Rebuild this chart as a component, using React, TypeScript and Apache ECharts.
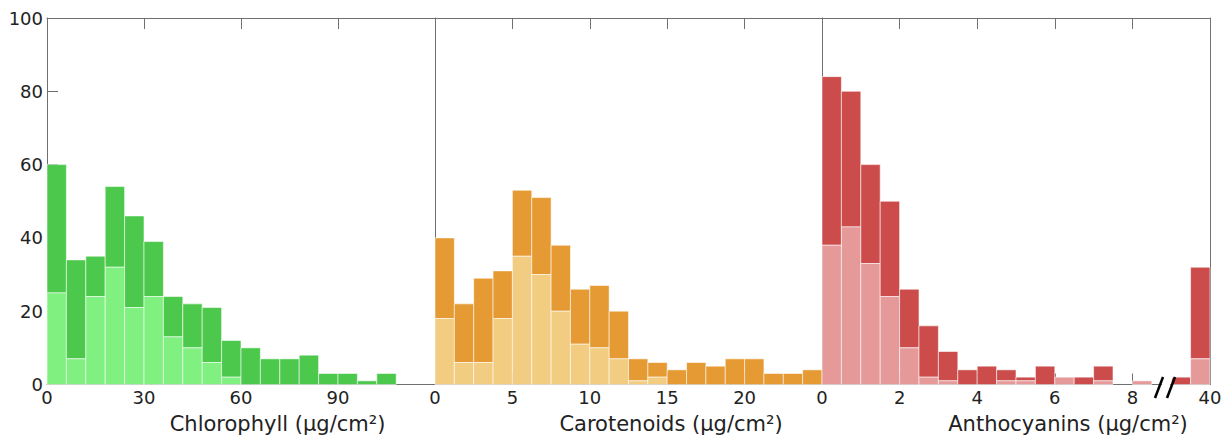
import React, { useEffect, useRef } from "react";
import * as echarts from "echarts";

// ---- data ----
const chlBinStarts = [0, 6, 12, 18, 24, 30, 36, 42, 48, 54, 60, 66, 72, 78, 84, 90, 96, 102, 108, 114];
const chlBinWidth = 6;
const chlTotal = [60, 34, 35, 54, 46, 39, 24, 22, 21, 12, 10, 7, 7, 8, 3, 3, 1, 3, 0, 0];
const chlLight = [25, 7, 24, 32, 21, 24, 13, 10, 6, 2, 0, 0, 0, 0, 0, 0, 0, 0, 0, 0];

const carBinStarts = [0, 1.25, 2.5, 3.75, 5, 6.25, 7.5, 8.75, 10, 11.25, 12.5, 13.75, 15, 16.25, 17.5, 18.75, 20, 21.25, 22.5, 23.75];
const carBinWidth = 1.25;
const carTotal = [40, 22, 29, 31, 53, 51, 38, 26, 27, 20, 7, 6, 4, 6, 5, 7, 7, 3, 3, 4];
const carLight = [18, 6, 6, 18, 35, 30, 20, 11, 10, 7, 1, 2, 0, 0, 0, 0, 0, 0, 0, 0];

const antBinStarts = [0, 0.5, 1, 1.5, 2, 2.5, 3, 3.5, 4, 4.5, 5, 5.5, 6, 6.5, 7, 7.5, 8, 8.5, 9, 9.5];
const antBinWidth = 0.5;
const antTotal = [84, 80, 60, 50, 26, 16, 9, 4, 5, 4, 2, 5, 2, 2, 5, 0, 1, 0, 2, 32];
const antLight = [38, 43, 33, 24, 10, 2, 1, 0, 0, 1, 1, 0, 2, 0, 1, 0, 1, 0, 0, 7];

const yTicks = [0, 20, 40, 60, 80, 100];
const chlTicks = ["0", "30", "60", "90", ""];
const carTicks = ["0", "5", "10", "15", "20", ""];
const antTicks = ["0", "2", "4", "6", "8", "40"];

const titles = ["Chlorophyll (μg/cm²)", "Carotenoids (μg/cm²)", "Anthocyanins (μg/cm²)"];

const FONT = "'DejaVu Sans', sans-serif";
const AXIS_COLOR = "#707070";

function buildData(starts: number[], w: number, light: number[], total: number[]) {
  return starts.map((s, i) => [s, s + w, light[i], total[i]]);
}

function makeRender(dark: string, lightC: string) {
  return (params: any, api: any) => {
    const x0 = api.value(0);
    const x1 = api.value(1);
    const lo = api.value(2);
    const tot = api.value(3);
    if (!tot) return { type: "group", children: [] };
    const pBase = api.coord([x0, 0]);
    const pLo = api.coord([x1, lo]);
    const pTot = api.coord([x1, tot]);
    const w = pLo[0] - pBase[0];
    const stroke = "rgba(255,255,255,0.55)";
    const children: any[] = [];
    if (tot > lo) {
      children.push({
        type: "rect",
        shape: { x: pBase[0], y: pTot[1], width: w, height: pLo[1] - pTot[1] },
        style: { fill: dark, stroke, lineWidth: 1 },
      });
    }
    if (lo > 0) {
      children.push({
        type: "rect",
        shape: { x: pBase[0], y: pLo[1], width: w, height: pBase[1] - pLo[1] },
        style: { fill: lightC, stroke, lineWidth: 1 },
      });
    }
    return { type: "group", children };
  };
}

export default function App() {
  const ref = useRef<HTMLDivElement>(null);

  useEffect(() => {
    if (!ref.current) return;
    const chart = echarts.init(ref.current, undefined, { renderer: "svg" });

    const gridTop = 18;
    const gridH = 366.5;
    const grids = [
      { left: 47, top: gridTop, width: 388, height: gridH },
      { left: 435, top: gridTop, width: 387, height: gridH },
      { left: 822, top: gridTop, width: 388, height: gridH },
    ];
    const maxes = [120, 25, 10];
    const intervals = [30, 5, 2];
    const tickSets = [chlTicks, carTicks, antTicks];

    const xAxis: any[] = [];
    grids.forEach((_, i) => {
      xAxis.push({
        type: "value",
        gridIndex: i,
        position: "bottom",
        min: 0,
        max: maxes[i],
        interval: intervals[i],
        axisLine: { show: true, onZero: false, lineStyle: { color: AXIS_COLOR, width: 1 } },
        axisTick: { show: true, inside: true, length: 11, lineStyle: { color: AXIS_COLOR } },
        splitLine: { show: false },
        axisLabel: {
          show: true,
          fontSize: 18,
          fontFamily: FONT,
          color: "#222",
          margin: 4,
          lineHeight: 18,
          showMaxLabel: true,
          formatter: (v: number) => tickSets[i][Math.round(v / intervals[i])] ?? "",
        },
      });
      xAxis.push({
        type: "value",
        gridIndex: i,
        position: "top",
        min: 0,
        max: maxes[i],
        interval: intervals[i],
        axisLine: { show: true, onZero: false, lineStyle: { color: AXIS_COLOR, width: 1 } },
        axisTick: { show: true, inside: true, length: 11, lineStyle: { color: AXIS_COLOR } },
        splitLine: { show: false },
        axisLabel: { show: false },
      });
    });

    const yAxis: any[] = [
      {
        type: "value",
        gridIndex: 0,
        min: 0,
        max: 100,
        interval: 20,
        axisLine: { show: true, onZero: false, lineStyle: { color: AXIS_COLOR } },
        axisTick: { show: true, inside: true, length: 11, lineStyle: { color: AXIS_COLOR } },
        splitLine: { show: false },
        axisLabel: {
          fontSize: 18,
          fontFamily: FONT,
          color: "#222",
          margin: 4,
          formatter: (v: number) => (yTicks.includes(v) ? String(v) : ""),
        },
      },
      {
        type: "value",
        gridIndex: 1,
        min: 0,
        max: 100,
        interval: 20,
        axisLine: { show: true, onZero: false, lineStyle: { color: AXIS_COLOR } },
        axisTick: { show: false },
        splitLine: { show: false },
        axisLabel: { show: false },
      },
      {
        type: "value",
        gridIndex: 2,
        min: 0,
        max: 100,
        interval: 20,
        axisLine: { show: true, onZero: false, lineStyle: { color: AXIS_COLOR } },
        axisTick: { show: false },
        splitLine: { show: false },
        axisLabel: { show: false },
      },
      {
        type: "value",
        gridIndex: 2,
        position: "right",
        min: 0,
        max: 100,
        interval: 20,
        axisLine: { show: true, onZero: false, lineStyle: { color: AXIS_COLOR } },
        axisTick: { show: false },
        splitLine: { show: false },
        axisLabel: { show: false },
      },
    ];

    const series: any[] = [
      {
        type: "custom",
        xAxisIndex: 0,
        yAxisIndex: 0,
        renderItem: makeRender("#4cc94c", "#80f080"),
        encode: { x: [0, 1], y: [2, 3] },
        data: buildData(chlBinStarts, chlBinWidth, chlLight, chlTotal),
        z: 1,
      },
      {
        type: "custom",
        xAxisIndex: 2,
        yAxisIndex: 1,
        renderItem: makeRender("#e59a33", "#f2cc80"),
        encode: { x: [0, 1], y: [2, 3] },
        data: buildData(carBinStarts, carBinWidth, carLight, carTotal),
        z: 1,
      },
      {
        type: "custom",
        xAxisIndex: 4,
        yAxisIndex: 2,
        renderItem: makeRender("#cc4c4c", "#e69999"),
        encode: { x: [0, 1], y: [2, 3] },
        data: buildData(antBinStarts, antBinWidth, antLight, antTotal),
        z: 1,
      },
    ];

    const titleCenters = [277.5, 671, 1068];

    const graphic: any[] = [
      ...titles.map((t, i) => ({
        type: "text",
        x: titleCenters[i],
        y: 424,
        z: 10,
        style: {
          text: t,
          fontSize: 21,
          fontFamily: FONT,
          fill: "#222",
          textAlign: "center",
          textVerticalAlign: "middle",
        },
      })),
      {
        type: "polygon",
        z: 20,
        shape: { points: [[1157, 398], [1165, 377], [1173, 377], [1165, 398]] },
        style: { fill: "#ffffff" },
      },
      {
        type: "line",
        z: 21,
        shape: { x1: 1155, y1: 398, x2: 1163, y2: 377 },
        style: { stroke: "#000", lineWidth: 2.5 },
      },
      {
        type: "line",
        z: 21,
        shape: { x1: 1167, y1: 398, x2: 1175, y2: 377 },
        style: { stroke: "#000", lineWidth: 2.5 },
      },
    ];

    chart.setOption({
      animation: false,
      backgroundColor: "#ffffff",
      grid: grids,
      xAxis,
      yAxis,
      series,
      graphic,
    });

    return () => chart.dispose();
  }, []);

  return (
    <div
      ref={ref}
      style={{ position: "fixed", left: 0, top: 0, width: 1230, height: 437 }}
    />
  );
}
